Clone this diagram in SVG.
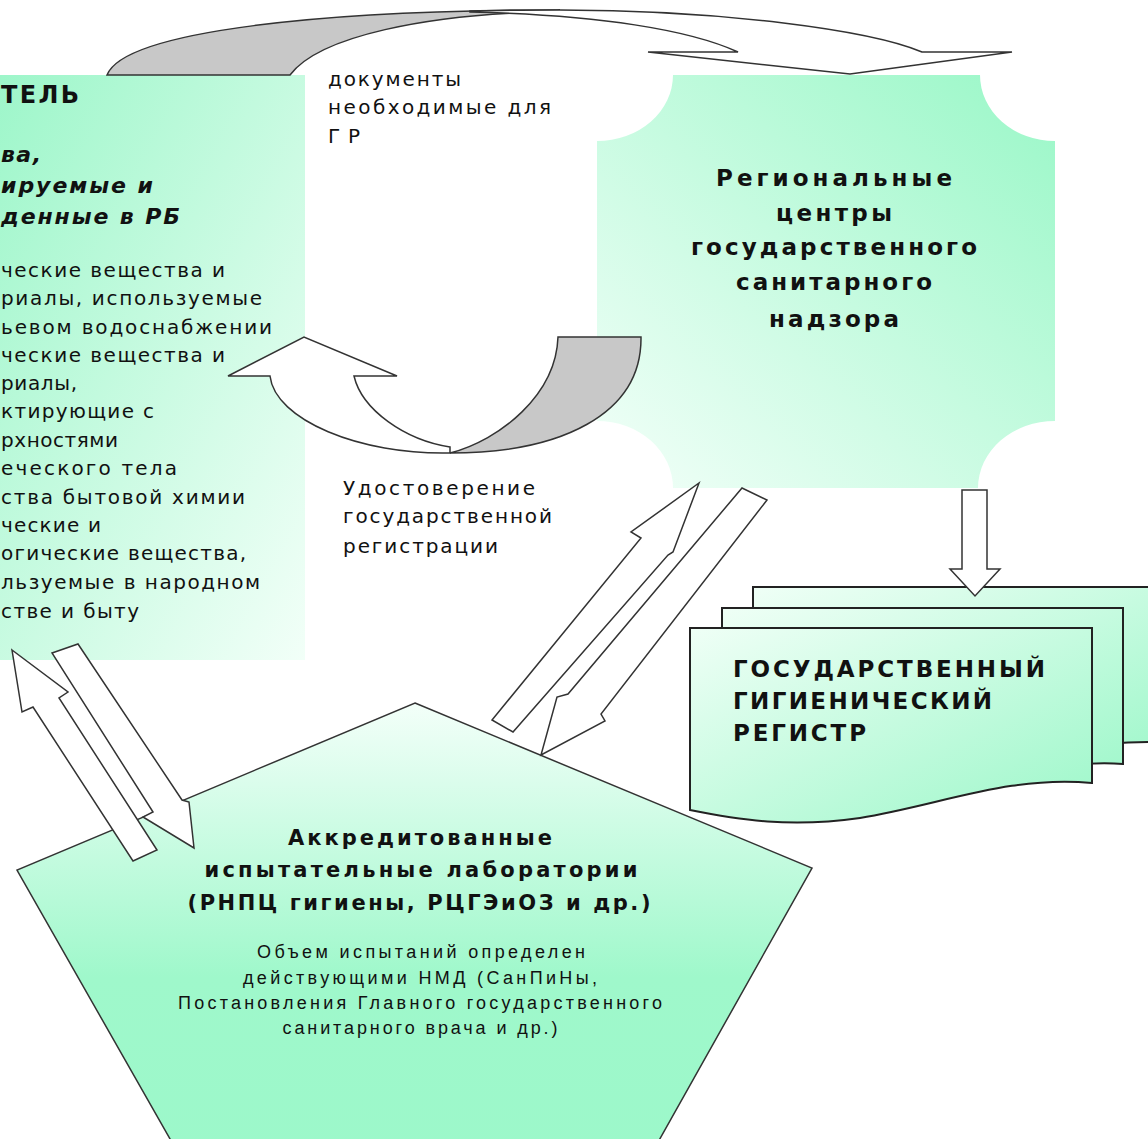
<svg xmlns="http://www.w3.org/2000/svg" width="1148" height="1139" viewBox="0 0 1148 1139">
<defs>
<linearGradient id="gLeft" x1="0" y1="0" x2="1" y2="1"><stop offset="0" stop-color="#9cf6c9"/><stop offset="1" stop-color="#f2fff8"/></linearGradient>
<linearGradient id="gRight" x1="1" y1="0" x2="0" y2="1"><stop offset="0" stop-color="#99f7c7"/><stop offset="1" stop-color="#f3fff9"/></linearGradient>
<linearGradient id="gPent" x1="0" y1="0" x2="0" y2="1"><stop offset="0" stop-color="#f3fff9"/><stop offset="0.6" stop-color="#9ff8cb"/><stop offset="1" stop-color="#9cf8ca"/></linearGradient>
<linearGradient id="gDoc" x1="0" y1="0" x2="1" y2="1"><stop offset="0" stop-color="#effff6"/><stop offset="1" stop-color="#9cf7c9"/></linearGradient>
<style>
text{font-family:"DejaVu Sans","Liberation Sans",sans-serif;fill:#111}
.hd{font-size:24px;font-weight:bold}
.bi{font-size:22px;font-weight:bold;font-style:italic}
.bd{font-size:20px}
.lb{font-size:20px}
.tb{font-size:23px;font-weight:bold}
.pb{font-size:21px;font-weight:bold}
.ps{font-family:"Liberation Sans",Arial,sans-serif;font-size:18px}
.arr{fill:#fff;stroke:#333;stroke-width:1.5;stroke-linejoin:miter}
.gry{fill:#c8c8c8;stroke:#333;stroke-width:1.5}
.doc{fill:url(#gDoc);stroke:#222;stroke-width:2}
</style>
</defs>

<g id="node-applicant">
<rect x="-10" y="75" width="315" height="585" fill="url(#gLeft)"/>
<text class="hd" x="1" y="103" textLength="78" lengthAdjust="spacing">ТЕЛЬ</text>
<text class="bi" x="1" y="162" textLength="40" lengthAdjust="spacing">ва,</text>
<text class="bi" x="1" y="193" textLength="152" lengthAdjust="spacing">ируемые и</text>
<text class="bi" x="1" y="224" textLength="179" lengthAdjust="spacing">денные в РБ</text>
<text class="bd" x="1" y="277" textLength="224" lengthAdjust="spacing">ческие вещества и</text>
<text class="bd" x="1" y="305" textLength="261" lengthAdjust="spacing">риалы, используемые</text>
<text class="bd" x="1" y="334" textLength="271" lengthAdjust="spacing">ьевом водоснабжении</text>
<text class="bd" x="1" y="362" textLength="224" lengthAdjust="spacing">ческие вещества и</text>
<text class="bd" x="1" y="390" textLength="76" lengthAdjust="spacing">риалы,</text>
<text class="bd" x="1" y="418" textLength="153" lengthAdjust="spacing">ктирующие с</text>
<text class="bd" x="1" y="447" textLength="117" lengthAdjust="spacing">рхностями</text>
<text class="bd" x="1" y="475" textLength="176" lengthAdjust="spacing">еческого тела</text>
<text class="bd" x="1" y="504" textLength="244" lengthAdjust="spacing">ства бытовой химии</text>
<text class="bd" x="1" y="532" textLength="100" lengthAdjust="spacing">ческие и</text>
<text class="bd" x="1" y="560" textLength="245" lengthAdjust="spacing">огические вещества,</text>
<text class="bd" x="1" y="589" textLength="259" lengthAdjust="spacing">льзуемые в народном</text>
<text class="bd" x="1" y="618" textLength="138" lengthAdjust="spacing">стве и быту</text>
</g>

<g id="node-regional">
<path d="M673,75 L980,75 A75,66 0 0 0 1055,141 L1055,421 A77,67 0 0 0 978,488 L673,488 A76,67 0 0 0 597,421 L597,141 A76,66 0 0 0 673,75 Z" fill="url(#gRight)"/>
<text class="tb" x="834" y="186" text-anchor="middle" textLength="236" lengthAdjust="spacing">Региональные</text>
<text class="tb" x="834" y="221" text-anchor="middle" textLength="116" lengthAdjust="spacing">центры</text>
<text class="tb" x="834" y="255" text-anchor="middle" textLength="286" lengthAdjust="spacing">государственного</text>
<text class="tb" x="834" y="290" text-anchor="middle" textLength="196" lengthAdjust="spacing">санитарного</text>
<text class="tb" x="834" y="327" text-anchor="middle" textLength="130" lengthAdjust="spacing">надзора</text>
</g>

<g id="node-labs">
<polygon points="415,703 812,868 648,1160 182,1160 17,870" fill="url(#gPent)" stroke="#333" stroke-width="1.5"/>
<text class="pb" x="420" y="845" text-anchor="middle" textLength="264" lengthAdjust="spacing">Аккредитованные</text>
<text class="pb" x="421" y="877" text-anchor="middle" textLength="433" lengthAdjust="spacing">испытательные лаборатории</text>
<text class="pb" x="419" y="910" text-anchor="middle" textLength="463" lengthAdjust="spacing">(РНПЦ гигиены, РЦГЭиОЗ и др.)</text>
<text class="ps" x="421" y="958" text-anchor="middle" textLength="328" lengthAdjust="spacing">Объем испытаний определен</text>
<text class="ps" x="420" y="984" text-anchor="middle" textLength="354" lengthAdjust="spacing">действующими НМД (СанПиНы,</text>
<text class="ps" x="420" y="1009" text-anchor="middle" textLength="484" lengthAdjust="spacing">Постановления Главного государственного</text>
<text class="ps" x="420" y="1034" text-anchor="middle" textLength="275" lengthAdjust="spacing">санитарного врача и др.)</text>
</g>

<g id="node-register">
<path class="doc" d="M753,587 H1175 V742 C1000,740 900,790 753,770 Z"/>
<path class="doc" d="M722,608 H1123 V764 C1060,758 980,785 900,795 C820,805 770,800 722,790 Z"/>
<path class="doc" d="M690,628 H1092 V783 C1010,775 940,805 860,818 C790,828 740,820 690,810 Z"/>
<text class="tb" x="733" y="677" textLength="312" lengthAdjust="spacing">ГОСУДАРСТВЕННЫЙ</text>
<text class="tb" x="733" y="709" textLength="259" lengthAdjust="spacing">ГИГИЕНИЧЕСКИЙ</text>
<text class="tb" x="733" y="741" textLength="133" lengthAdjust="spacing">РЕГИСТР</text>
</g>

<g id="connectors">
<g id="arrow-docs">
<path class="gry" d="M107,75 C125,30 330,10 560,10 L540,12 C430,15 320,35 290,75 Z"/>
<path class="arr" d="M470,11 C500,10 530,10 560,10 C720,10 870,30 922,52 L1012,52 L850,74 L648,52 L738,52 C690,30 600,15 470,12 Z"/>
</g>
<g id="arrow-cert">
<path class="arr" d="M450,453 C360,455 275,420 270,376 L228,376 L304,337 L397,376 L354,376 C362,410 405,440 450,447 Z"/>
<path class="gry" d="M558,337 L641,337 C642,415 560,453 450,453 C500,440 556,395 558,337 Z"/>
</g>
<polygon id="arrow-register" class="arr" points="962,490 987,490 987,569 1000,569 975,596 950,569 962,569"/>
<polygon id="arrow-lab-to-applicant" class="arr" points="12,650 68,692 59,698 157,850 133,861 33,707 22,712"/>
<polygon id="arrow-applicant-to-lab" class="arr" points="52,653 78,644 182,800 189,802 194,848 143,817 153,812"/>
<polygon id="arrow-lab-to-regional" class="arr" points="699,483 673,552 668,555 513,732 492,720 641,538 631,532"/>
<polygon id="arrow-regional-to-lab" class="arr" points="742,488 767,500 601,714 605,721 541,755 557,697 568,694"/>
<text class="lb" x="328" y="86" textLength="133" lengthAdjust="spacing">документы</text>
<text class="lb" x="328" y="114" textLength="223" lengthAdjust="spacing">необходимые для</text>
<text class="lb" x="328" y="143" textLength="32" lengthAdjust="spacing">ГР</text>
<text class="lb" x="343" y="495" textLength="192" lengthAdjust="spacing">Удостоверение</text>
<text class="lb" x="343" y="523" textLength="209" lengthAdjust="spacing">государственной</text>
<text class="lb" x="343" y="553" textLength="155" lengthAdjust="spacing">регистрации</text>
</g>
</svg>
